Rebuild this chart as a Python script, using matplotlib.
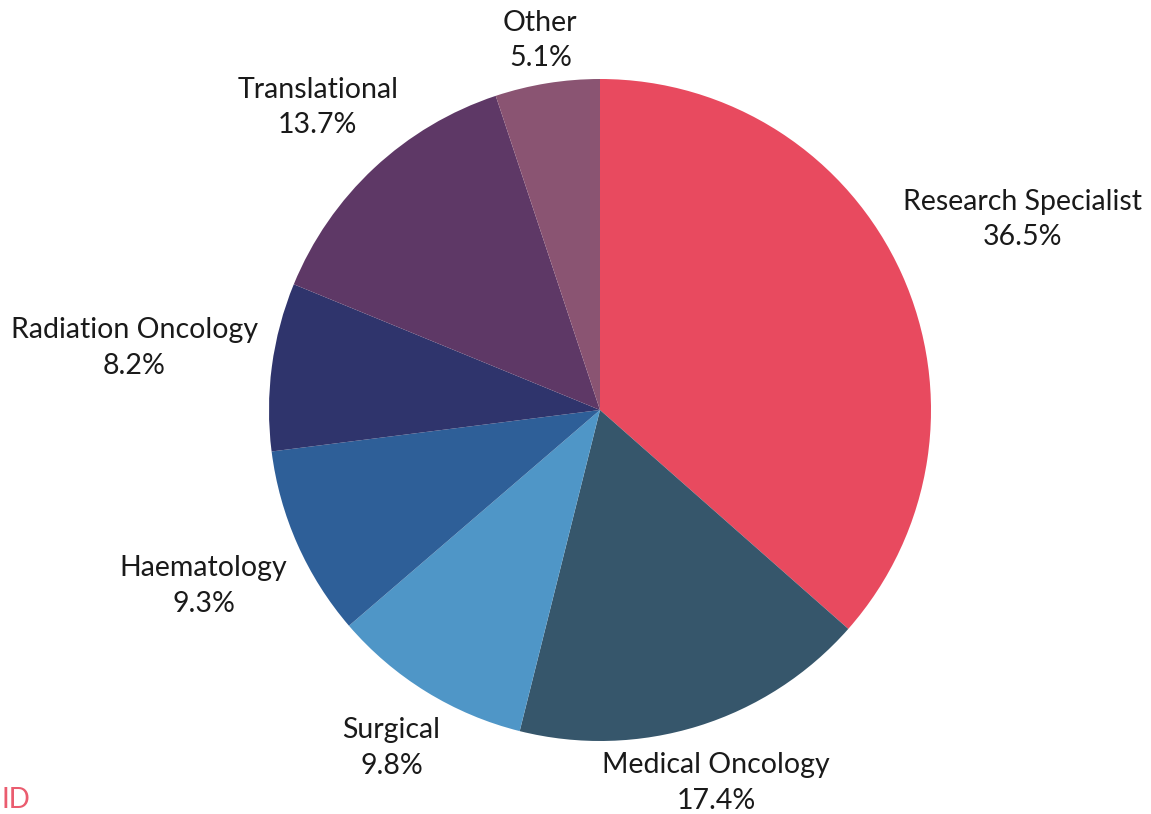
import matplotlib
matplotlib.use("Agg")
import matplotlib.pyplot as plt
import numpy as np

categories = ["Research Specialist", "Medical Oncology", "Surgical", "Haematology",
              "Radiation Oncology", "Translational", "Other"]
values = [36.5, 17.4, 9.8, 9.3, 8.2, 13.7, 5.1]
colors = ["#E84A5F", "#36566B", "#4F96C7", "#2E5F98", "#2F346C", "#5E3866", "#8A5472"]
label_dist = [1.40, 1.18, 1.20, 1.31, 1.42, 1.25, 1.13]

plt.rcParams['font.family'] = ['Lato', 'DejaVu Sans']

W, H = 1151, 814
fig = plt.figure(figsize=(W / 100, H / 100), dpi=100)
cx, cy, R = 600, 814 - 410, 331
ax = fig.add_axes([(cx - R) / W, (cy - R) / H, 2 * R / W, 2 * R / H])
wedges, _ = ax.pie(values, colors=colors, startangle=90, counterclock=False, radius=1.0)
ax.set_xlim(-1, 1)
ax.set_ylim(-1, 1)
ax.set_aspect('equal')
ax.axis('off')

for w, cat, v, d in zip(wedges, categories, values, label_dist):
    ang = np.deg2rad((w.theta1 + w.theta2) / 2)
    ax.text(d * np.cos(ang), d * np.sin(ang), f"{cat}\n{v:.1f}%",
            ha='center', va='center', fontsize=20.5, color='#1a1a1a',
            linespacing=1.45, clip_on=False)

fig.text(0.001, 0.001, "ID", color='#E84A5F', fontsize=20, ha='left', va='bottom', alpha=0.9)

fig.savefig("out.png", dpi=100)
